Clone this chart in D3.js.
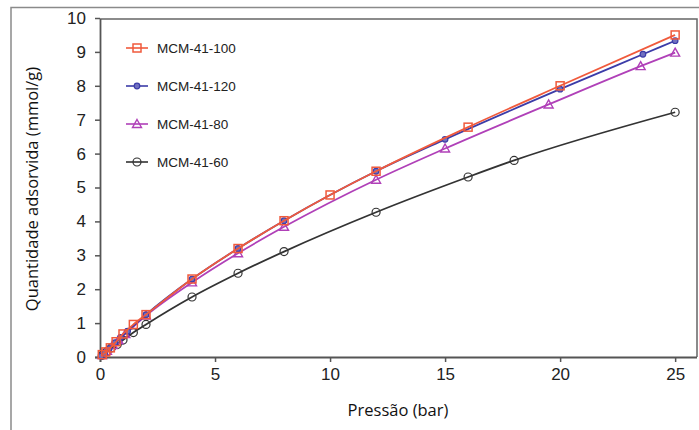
<!DOCTYPE html>
<html>
<head>
<meta charset="utf-8">
<script src="https://cdn.jsdelivr.net/npm/d3@7"></script>
<style>
  body { margin: 0; background: #fff; }
  svg { display: block; }
</style>
</head>
<body>
<svg id="chart"></svg>
<script>
const width = 699;
const height = 430;

// pressure (bar), adsorbed amount (mmol/g)
const mcm100 = [
  [0.1, 0.07], [0.25, 0.15], [0.45, 0.27], [0.7, 0.45], [1.0, 0.68], [1.45, 0.96],
  [2.0, 1.25], [4.0, 2.3], [6.0, 3.2], [8.0, 4.02], [10, 4.78], [12, 5.48],
  [16, 6.78], [20, 8.0], [25, 9.5]
];
const mcm120 = [
  [0.05, 0.03], [0.2, 0.12], [0.4, 0.25], [0.65, 0.42], [0.9, 0.58], [1.2, 0.76],
  [2.0, 1.25], [4.0, 2.3], [6.0, 3.2], [8.0, 4.02], [12, 5.48], [15, 6.42],
  [20, 7.9], [23.6, 8.93], [25, 9.33]
];
const mcm80 = [
  [0.1, 0.06], [0.3, 0.18], [0.55, 0.35], [0.8, 0.5], [1.1, 0.68], [2.0, 1.22],
  [4.0, 2.2], [6.0, 3.06], [8.0, 3.84], [12, 5.23], [15, 6.15], [19.5, 7.45],
  [23.5, 8.58], [25, 8.98]
];
const mcm60 = [
  [0.1, 0.05], [0.3, 0.16], [0.5, 0.27], [0.75, 0.37], [1.0, 0.5], [1.45, 0.72],
  [2.0, 0.96], [4.0, 1.77], [6.0, 2.47], [8.0, 3.11], [12, 4.27], [16, 5.31],
  [18, 5.8], [25, 7.22]
];

const seriesNames = ["MCM-41-100", "MCM-41-120", "MCM-41-80", "MCM-41-60"];
const xTicks = [0, 5, 10, 15, 20, 25];
const yTicks = [0, 1, 2, 3, 4, 5, 6, 7, 8, 9, 10];

const series = [
  { name: seriesNames[0], data: mcm100, color: "#f05a3c", symbol: "square" },
  { name: seriesNames[1], data: mcm120, color: "#3c3ca8", symbol: "diamond" },
  { name: seriesNames[2], data: mcm80, color: "#b040b8", symbol: "triangle" },
  { name: seriesNames[3], data: mcm60, color: "#333333", symbol: "circle" }
];

const plotLeft = 100, plotRight = 697, plotTop = 19, plotBottom = 357;

const x = d3.scaleLinear().domain([0, 25.95]).range([plotLeft, plotRight]);
const y = d3.scaleLinear().domain([0, 10]).range([plotBottom, 18]);

const svg = d3.select("#chart").attr("width", width).attr("height", height);

// outer frame
svg.append("path")
  .attr("d", `M11,${height} L11,7.5 L${width},7.5`)
  .attr("fill", "none")
  .attr("stroke", "#8a8a8a")
  .attr("stroke-width", 1.5);

// plot box
svg.append("path")
  .attr("d", `M${plotLeft},${plotTop} L${plotRight},${plotTop} L${plotRight},${plotBottom}`)
  .attr("fill", "none")
  .attr("stroke", "#666")
  .attr("stroke-width", 1.5);

// axes
const xAxis = d3.axisBottom(x).tickValues(xTicks).tickSize(5).tickPadding(6).tickSizeOuter(0);
const gx = svg.append("g")
  .attr("transform", `translate(0,${plotBottom})`)
  .call(xAxis);

const yAxis = d3.axisLeft(y).tickValues(yTicks).tickSize(5).tickPadding(9).tickSizeOuter(0);
const gy = svg.append("g")
  .attr("transform", `translate(${plotLeft},0)`)
  .call(yAxis);

[gx, gy].forEach((g) => {
  g.select(".domain").attr("stroke", "#555").attr("stroke-width", 1.8);
  g.selectAll(".tick line").attr("stroke", "#555").attr("stroke-width", 1.5);
  g.selectAll(".tick text")
    .attr("fill", "#222")
    .style("font-family", "'Liberation Sans', Arial, sans-serif")
    .style("font-size", "17px");
});
gx.select(".domain").attr("d", `M${plotLeft - 5},0.5H${plotRight}`);
gy.select(".domain").attr("d", `M0.5,${plotTop}V${plotBottom + 5}`);

// axis titles
svg.append("text")
  .attr("x", 398)
  .attr("y", 416)
  .attr("text-anchor", "middle")
  .style("font-family", "'Open Sans', 'Noto Sans', sans-serif")
  .style("font-size", "16.5px")
  .attr("fill", "#111")
  .text("Pressão (bar)");

svg.append("text")
  .attr("transform", "translate(38,189) rotate(-90)")
  .attr("text-anchor", "middle")
  .style("font-family", "'Open Sans', 'Noto Sans', sans-serif")
  .style("font-size", "16.5px")
  .attr("fill", "#111")
  .text("Quantidade adsorvida (mmol/g)");

function drawMarker(g, s, cx, cy) {
  if (s.symbol === "square") {
    g.append("rect")
      .attr("x", cx - 4).attr("y", cy - 4)
      .attr("width", 8).attr("height", 8)
      .attr("fill", "none").attr("stroke", s.color).attr("stroke-width", 1.5);
  } else if (s.symbol === "diamond") {
    g.append("circle")
      .attr("cx", cx).attr("cy", cy).attr("r", 2.8)
      .attr("fill", "#7070c0").attr("stroke", s.color).attr("stroke-width", 1.2);
  } else if (s.symbol === "triangle") {
    g.append("path")
      .attr("d", `M${cx},${cy - 4.5} L${cx + 4.5},${cy + 3.5} L${cx - 4.5},${cy + 3.5} Z`)
      .attr("fill", "none").attr("stroke", s.color).attr("stroke-width", 1.4);
  } else {
    g.append("circle")
      .attr("cx", cx).attr("cy", cy).attr("r", 4)
      .attr("fill", "none").attr("stroke", s.color).attr("stroke-width", 1.2);
  }
}

const line = d3.line()
  .x((d) => x(d[0]))
  .y((d) => y(d[1]))
  .curve(d3.curveMonotoneX);

// draw back to front: black, purple, blue, red
[3, 2, 1, 0].forEach((i) => {
  const s = series[i];
  const g = svg.append("g");
  g.append("path")
    .datum(s.data)
    .attr("d", line)
    .attr("fill", "none")
    .attr("stroke", s.color)
    .attr("stroke-width", 1.8);
  s.data.forEach((d) => drawMarker(g, s, x(d[0]), y(d[1])));
});

// legend
const legend = svg.append("g");
series.forEach((s, i) => {
  const ly = 48 + i * 38;
  legend.append("line")
    .attr("x1", 126).attr("x2", 148)
    .attr("y1", ly).attr("y2", ly)
    .attr("stroke", s.color).attr("stroke-width", 1.6);
  drawMarker(legend, s, 137, ly);
  legend.append("text")
    .attr("x", 157)
    .attr("y", ly + 5)
    .style("font-family", "'Liberation Sans', Arial, sans-serif")
    .style("font-size", "13.5px")
    .attr("fill", "#222")
    .text(s.name);
});
</script>
</body>
</html>
